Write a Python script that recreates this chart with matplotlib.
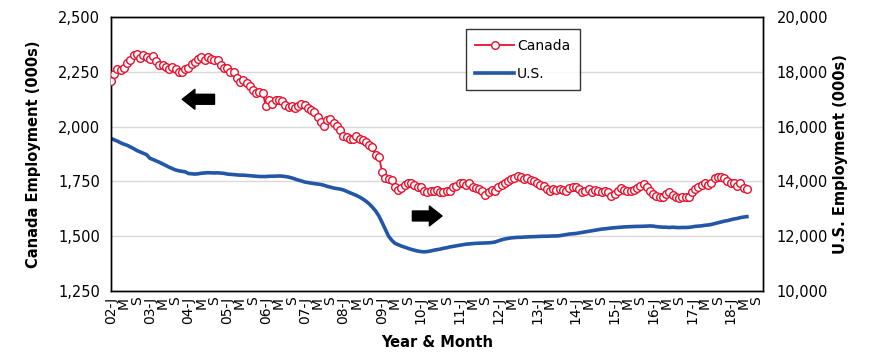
import matplotlib
matplotlib.use('Agg')
import matplotlib.pyplot as plt
from matplotlib.ticker import FuncFormatter, MultipleLocator

# monthly data, Jan 2002 onwards (000s)
canada = [
    2208, 2240, 2262, 2258, 2268, 2290, 2302, 2328, 2331, 2312, 2327, 2318,
    2309, 2322, 2300, 2281, 2281, 2272, 2261, 2272, 2261, 2251, 2251, 2263,
    2266, 2284, 2296, 2307, 2318, 2302, 2318, 2307, 2302, 2302, 2281, 2266,
    2266, 2251, 2251, 2220, 2205, 2212, 2200, 2185, 2167, 2155, 2160, 2152,
    2094, 2121, 2103, 2121, 2124, 2118, 2098, 2088, 2094, 2084, 2094, 2103,
    2098, 2085, 2076, 2069, 2045, 2023, 2003, 2030, 2033, 2015, 2003, 1984,
    1957, 1954, 1946, 1942, 1957, 1946, 1938, 1931, 1916, 1909, 1870, 1863,
    1794, 1764, 1759, 1756, 1726, 1711, 1719, 1734, 1745, 1741, 1734, 1726,
    1723, 1708, 1701, 1706, 1708, 1711, 1701, 1701, 1708, 1706, 1723, 1728,
    1741, 1745, 1734, 1745, 1723, 1719, 1714, 1708, 1688, 1704, 1711, 1708,
    1723, 1734, 1745, 1750, 1760, 1764, 1775, 1770, 1760, 1764, 1756, 1750,
    1741, 1734, 1728, 1714, 1708, 1714, 1711, 1714, 1711, 1708, 1719, 1723,
    1723, 1714, 1701, 1708, 1714, 1704, 1711, 1708, 1701, 1708, 1701, 1684,
    1695, 1708, 1719, 1711, 1708, 1708, 1711, 1719, 1728, 1737, 1726, 1708,
    1693, 1684, 1678, 1681, 1693, 1701, 1690, 1678, 1674, 1678, 1678, 1681,
    1701, 1714, 1723, 1734, 1741, 1734, 1745, 1764, 1771, 1771, 1768, 1750,
    1741, 1741, 1728, 1741, 1718, 1714,
]

us = [
    15570, 15520, 15470, 15410, 15360, 15320, 15260, 15200, 15130, 15080, 15030, 14980,
    14850, 14800, 14750, 14700, 14640, 14580, 14520, 14470, 14420, 14390, 14370, 14350,
    14290, 14280, 14270, 14280, 14300, 14310, 14320, 14315, 14310, 14315, 14305, 14295,
    14270, 14260, 14250, 14240, 14230, 14230, 14220, 14210, 14200, 14190, 14180, 14180,
    14180, 14190, 14190, 14195, 14200, 14195, 14180, 14160, 14130, 14090, 14050, 14020,
    13980, 13960, 13940, 13920, 13905, 13890, 13860, 13820, 13790, 13760, 13740, 13720,
    13690, 13640, 13590, 13540, 13490, 13430, 13360, 13280, 13180, 13060, 12920, 12740,
    12500, 12250, 12000, 11850, 11740, 11690, 11640, 11600, 11560, 11520, 11490, 11460,
    11440, 11430, 11440, 11460, 11490, 11510, 11530, 11560, 11580, 11610, 11630, 11650,
    11670, 11690, 11710, 11720, 11730, 11740, 11745, 11750, 11755, 11760, 11770, 11790,
    11830, 11870, 11900, 11920, 11940, 11950, 11960, 11960, 11970, 11975, 11980, 11985,
    11990, 11995, 12000, 12000, 12005, 12010, 12010, 12020, 12040, 12060, 12080, 12090,
    12100, 12120, 12140, 12160, 12180, 12200, 12220, 12240, 12260, 12270, 12285, 12300,
    12310, 12320, 12330, 12340, 12345, 12350, 12355, 12360, 12360, 12365, 12370, 12375,
    12370, 12350, 12340, 12330, 12330, 12320, 12330, 12320, 12315, 12320, 12320, 12325,
    12340, 12360, 12370, 12380, 12400, 12410, 12430, 12460, 12490, 12520, 12550, 12570,
    12600, 12630, 12650, 12680, 12700, 12715,
]

first_year = 2002
n_cats = 203  # category axis runs Jan 2002 .. Nov 2018

month_letters = {0: 'J', 4: 'M', 8: 'S'}
tick_pos = list(range(0, 201, 4))
tick_lab = []
for p in tick_pos:
    yy = (first_year + p // 12) % 100
    m = p % 12
    tick_lab.append(f'{yy:02d}-J' if m == 0 else month_letters[m])

RED = '#E8112D'
BLUE = '#2356A6'

plt.rcParams['font.family'] = ['DejaVu Sans']

fig = plt.figure(figsize=(8.7, 3.64), dpi=100)
ax = fig.add_axes([0.1276, 0.2005, 0.7494, 0.7525])
ax2 = ax.twinx()

x_ca = list(range(len(canada)))
x_us = list(range(len(us)))

l2, = ax2.plot(x_us, us, color=BLUE, lw=2.6, label='U.S.', zorder=2)
l1, = ax.plot(x_ca, canada, color=RED, lw=1.3, marker='o', markersize=5.5,
              markerfacecolor='white', markeredgecolor=RED, markeredgewidth=1.0,
              label='Canada', zorder=3)

ax.set_zorder(ax2.get_zorder() + 1)
ax.patch.set_visible(False)

ax.set_xlim(0, n_cats - 1)
ax.set_ylim(1250, 2500)
ax2.set_ylim(10000, 20000)
ax.yaxis.set_major_locator(MultipleLocator(250))
ax2.yaxis.set_major_locator(MultipleLocator(2000))
ax.yaxis.set_major_formatter(FuncFormatter(lambda v, p: f'{v:,.0f}'))
ax2.yaxis.set_major_formatter(FuncFormatter(lambda v, p: f'{v:,.0f}'))

ax2.grid(axis='y', color='#D9D9D9', lw=1.0)
ax2.set_axisbelow(True)

ax.set_xticks(tick_pos)
ax.set_xticklabels(tick_lab, rotation=90, fontsize=10)
ax.tick_params(axis='x', length=0, pad=4)
ax.tick_params(axis='y', length=0, labelsize=10.5, pad=8)
ax2.tick_params(axis='y', length=0, labelsize=10.5, pad=10)

for a in (ax, ax2):
    for s in a.spines.values():
        s.set_color('black')
        s.set_linewidth(1.0)

ax.set_xlabel('Year & Month', fontsize=10.5, fontweight='bold', labelpad=8)
ax.set_ylabel('Canada Employment (000s)', fontsize=10.5, fontweight='bold', labelpad=12)
ax2.set_ylabel('U.S. Employment (000s)', fontsize=10.5, fontweight='bold', labelpad=3)

# direction arrows
arrow_kw = dict(arrowstyle='simple,head_length=0.7,head_width=1.1,tail_width=0.55',
                color='black', mutation_scale=13)
ax.annotate('', xy=(0.105, 0.70), xytext=(0.163, 0.70), xycoords='axes fraction',
            arrowprops=arrow_kw)
ax.annotate('', xy=(0.512, 0.274), xytext=(0.458, 0.274), xycoords='axes fraction',
            arrowprops=arrow_kw)

leg = ax.legend(handles=[l1, l2], loc='upper left', bbox_to_anchor=(0.544, 0.956),
                borderaxespad=0, fontsize=10, frameon=True, fancybox=False,
                borderpad=0.7, labelspacing=1.0, handlelength=2.8, handletextpad=0.2)
leg.get_frame().set_edgecolor('black')
leg.get_frame().set_linewidth(1.0)

fig.savefig('out.png', dpi=100)
